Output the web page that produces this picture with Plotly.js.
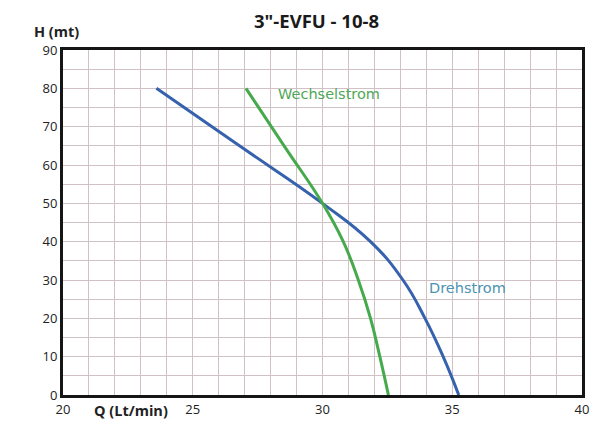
<!DOCTYPE html>
<html><head><meta charset="utf-8">
<script src="https://cdn.plot.ly/plotly-3.0.1.min.js"></script>
<style>html,body{margin:0;padding:0;background:#fff}#chart{width:610px;height:438px}</style>
</head><body><div id="chart"></div>
<script>
const titleText = '3"-EVFU - 10-8';
const drehQ = [23.6, 26.8, 30.0, 31.85, 33.1, 33.95, 34.65, 35.25];
const drehH = [80, 65, 50, 40, 30, 20, 10, 0];
const wechQ = [27.05, 28.52, 30.0, 30.8, 31.38, 31.85, 32.21, 32.54];
const wechH = [80, 65, 50, 40, 30, 20, 10, 0];
const xTicks = [20, 25, 30, 35, 40];
const yTicks = [0, 10, 20, 30, 40, 50, 60, 70, 80, 90];

const gridCol = '#d0c2c4';
const traces = [
  {x: drehQ, y: drehH, mode: 'lines', line: {color: '#3662ad', width: 3, shape: 'spline', smoothing: 1.3}, hoverinfo: 'skip'},
  {x: wechQ, y: wechH, mode: 'lines', line: {color: '#45aa4c', width: 3, shape: 'spline', smoothing: 1.3}, hoverinfo: 'skip'}
];
const tickFont = {family: 'Open Sans, sans-serif', size: 13, color: '#222'};
const layout = {
  width: 610, height: 438,
  margin: {l: 63, r: 28, t: 50, b: 43},
  paper_bgcolor: '#fff', plot_bgcolor: '#fff',
  showlegend: false,
  font: tickFont,
  xaxis: {range: [20, 40], tickvals: xTicks, showgrid: true, gridcolor: gridCol, gridwidth: 1,
    minor: {dtick: 1, showgrid: true, gridcolor: gridCol, gridwidth: 1},
    zeroline: false, showline: true, linecolor: '#151515', linewidth: 3, mirror: true, ticks: '', ticklen: 0,
    tickfont: tickFont},
  yaxis: {range: [0, 90], tickvals: yTicks, showgrid: true, gridcolor: gridCol, gridwidth: 1,
    minor: {dtick: 5, showgrid: true, gridcolor: gridCol, gridwidth: 1},
    zeroline: false, showline: true, linecolor: '#151515', linewidth: 3, mirror: true, ticks: '', ticklen: 0,
    tickfont: tickFont},
  annotations: [
    {text: '<b>' + titleText + '</b>', xref: 'paper', yref: 'paper', x: 0.488, y: 1.085, xanchor: 'center', yanchor: 'middle', showarrow: false, font: {family: 'Open Sans, sans-serif', size: 18.5, color: '#1a1a1a'}},
    {text: '<b>H (mt)</b>', xref: 'paper', yref: 'paper', x: -0.012, y: 1.053, xanchor: 'center', yanchor: 'middle', showarrow: false, font: {family: 'Open Sans, sans-serif', size: 14.5, color: '#222'}},
    {text: '<b>Q (Lt/min)</b>', xref: 'paper', yref: 'paper', x: 0.131, y: -0.046, xanchor: 'center', yanchor: 'middle', showarrow: false, font: {family: 'Open Sans, sans-serif', size: 14.5, color: '#222'}},
    {text: 'Wechselstrom', x: 28.2, y: 78.4, xanchor: 'left', yanchor: 'middle', showarrow: false, font: {family: 'DejaVu Sans, sans-serif', size: 14.5, color: '#4fa656'}},
    {text: 'Drehstrom', x: 34.03, y: 27.9, xanchor: 'left', yanchor: 'middle', showarrow: false, font: {family: 'DejaVu Sans, sans-serif', size: 14.5, color: '#4c94b2'}}
  ]
};
Plotly.newPlot('chart', traces, layout, {displayModeBar: false, staticPlot: true});
</script></body></html>
